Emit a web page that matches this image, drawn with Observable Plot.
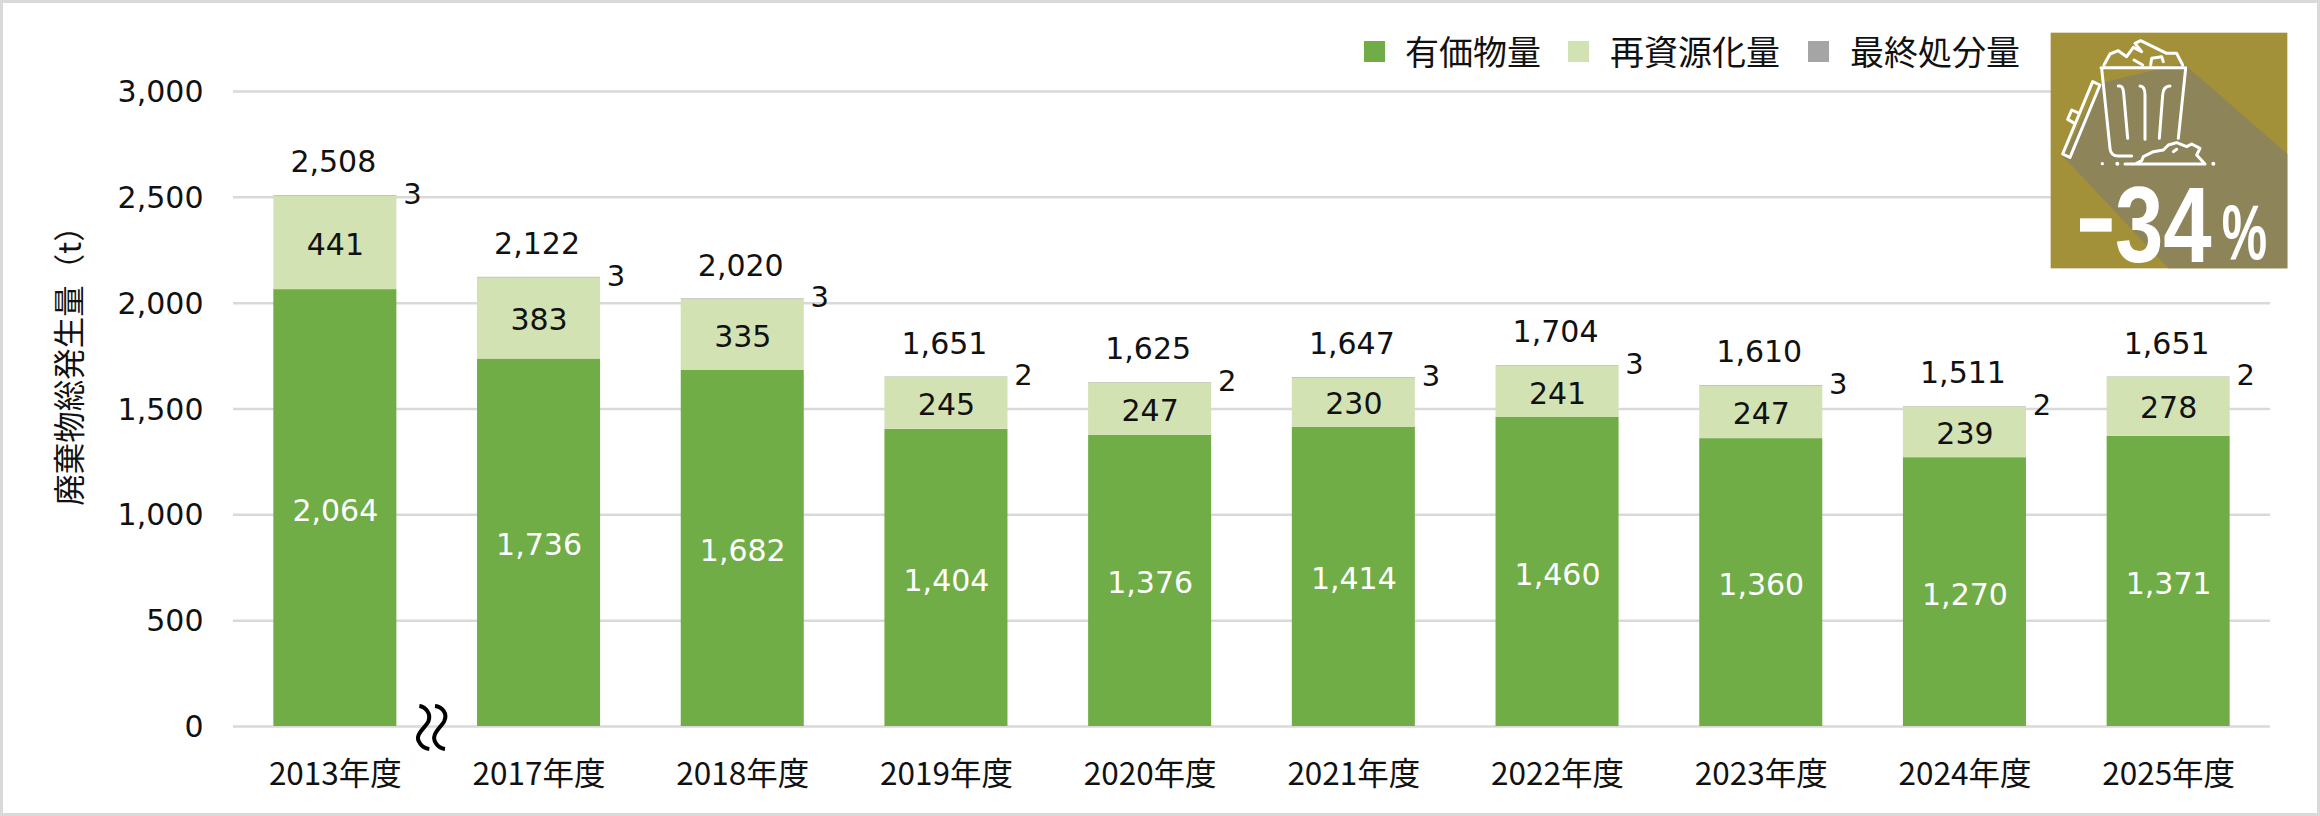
<!DOCTYPE html>
<html lang="ja">
<head>
<meta charset="utf-8">
<script src="https://cdn.jsdelivr.net/npm/d3@7"></script>
<script src="https://cdn.jsdelivr.net/npm/@observablehq/plot@0.6"></script>
<style>
  html,body{margin:0;padding:0;background:#fff;}
  #wrap{position:relative;width:2320px;height:816px;overflow:hidden;}
  #wrap>svg.chart{position:absolute;left:0;top:0;}
  #frame{position:absolute;inset:0;border:3px solid #d9d9d9;box-sizing:border-box;pointer-events:none;}
  .lg{position:absolute;top:29px;font:34px/44px "Noto Sans CJK JP";color:#111;white-space:nowrap;}
  .sw{position:absolute;top:41px;width:21px;height:21px;}
</style>
</head>
<body>
<div id="wrap"></div>
<script>
const years = ["2013年度","2017年度","2018年度","2019年度","2020年度","2021年度","2022年度","2023年度","2024年度","2025年度"];
const valuables = [2064,1736,1682,1404,1376,1414,1460,1360,1270,1371];
const recycled  = [441,383,335,245,247,230,241,247,239,278];
const disposal  = [3,3,3,2,2,3,3,3,2,2];
const totals    = [2508,2122,2020,1651,1625,1647,1704,1610,1511,1651];
const seriesNames = ["有価物量","再資源化量","最終処分量"];
const seriesColors = ["#70ad47","#d2e2b3","#a5a5a5"];
const yTicks = [0,500,1000,1500,2000,2500,3000];

const rows = years.flatMap((year,i)=>[
  {year,series:seriesNames[0],value:valuables[i]},
  {year,series:seriesNames[1],value:recycled[i]},
  {year,series:seriesNames[2],value:disposal[i]}
]);
const fmt = d3.format(",");
const latin = '"DejaVu Sans","Noto Sans CJK JP"';
const cjk = '"Noto Sans CJK JP"';
const labelOf = name => d => d.series===name ? fmt(d.value) : null;

const plot = Plot.plot({
  width:2320,height:816,
  marginLeft:233,marginRight:50,marginTop:91,marginBottom:90,
  style:{background:"transparent",fontFamily:latin,fontSize:"30px",color:"#111"},
  x:{domain:years,paddingInner:0.396,paddingOuter:0.198,round:false,label:null},
  y:{domain:[0,3000],label:null},
  color:{domain:seriesNames,range:seriesColors},
  marks:[
    Plot.gridY(yTicks,{stroke:"#d9d9d9",strokeOpacity:1,strokeWidth:2.5}),
    Plot.barY(rows,{x:"year",y:"value",fill:"series",order:null}),
    Plot.axisY({ticks:yTicks,tickFormat:d=>fmt(d),tickSize:0,tickPadding:30,fontSize:30,fill:"#111",label:null,fontFamily:latin,dy:1}),
    Plot.axisX({tickSize:0,tickPadding:36,fontSize:31.5,fill:"#111",label:null,fontFamily:cjk}),
    Plot.text(rows,Plot.stackY({x:"year",y:"value",z:"series",order:null,text:labelOf(seriesNames[0]),fill:"#fff",fontSize:30,dy:3})),
    Plot.text(rows,Plot.stackY({x:"year",y:"value",z:"series",order:null,text:labelOf(seriesNames[1]),fill:"#111",fontSize:30,dy:2})),
    Plot.text(years,{x:d=>d,y:(d,i)=>totals[i],text:(d,i)=>fmt(totals[i]),dx:-2,dy:-33,fill:"#111",fontSize:30}),
    Plot.text(years,{x:d=>d,y:(d,i)=>totals[i],text:(d,i)=>String(disposal[i]),dx:77,dy:-1,fill:"#111",fontSize:29}),
    Plot.text(["廃棄物総発生量（t）"],{frameAnchor:"left",textAnchor:"middle",dx:-163,dy:-51,rotate:-90,fill:"#111",fontSize:31.5,fontFamily:cjk})
  ]
});
plot.classList.add("chart");
const wrap = document.getElementById("wrap");
wrap.appendChild(plot);

// legend
const swX=[1364,1568,1808], txX=[1405,1610,1850];
seriesNames.forEach((n,i)=>{
  const s=document.createElement("div");s.className="sw";s.style.left=swX[i]+"px";s.style.background=seriesColors[i];wrap.appendChild(s);
  const t=document.createElement("div");t.className="lg";t.style.left=txX[i]+"px";t.textContent=n;wrap.appendChild(t);
});

// axis break mark + badge
const ns="http://www.w3.org/2000/svg";
const brk=document.createElementNS(ns,"svg");
brk.setAttribute("width",120);brk.setAttribute("height",100);
brk.setAttribute("viewBox","0 0 360 300");
brk.style.cssText="position:absolute;left:400px;top:680px;";
brk.innerHTML='<path d="M58 78 C75 80 95 100 85 125 C75 145 40 165 60 190 Q70 205 88 207 M105 78 C125 80 145 100 132 125 C120 145 90 165 108 190 Q118 205 135 207" fill="none" stroke="#000" stroke-width="12"/>';
wrap.appendChild(brk);

const badge=document.createElementNS(ns,"svg");
badge.setAttribute("width",420);badge.setAttribute("height",300);
badge.setAttribute("viewBox","0 0 1260 900");
badge.style.cssText="position:absolute;left:1900px;top:0;";
badge.innerHTML=`
<rect x="452" y="98" width="710" height="707" fill="#a29138"/>
<path d="M490 470 L600 250 L850 190 L1162 462 L1162 805 L805 805 Z" fill="#8d845a"/>
<g fill="none" stroke="#fff" stroke-width="9" stroke-linejoin="round" stroke-linecap="round">
<path d="M603 203 H857 M605 205 L630 445 Q632 468 655 468 H695 M857 205 L835 415"/>
<path d="M655 258 Q670 255 671 280 L683 415 M720 258 Q735 258 735 285 V418 M810 258 Q790 258 788 285 L778 415"/>
<path d="M578 245 L600 255 L510 472 L488 462 Z M515 330 L533 338 M515 330 L503 358 L520 368"/>
<path d="M612 195 L630 162 L655 152 L680 170 L700 142 L725 155 L705 130 L722 122 L800 160 L830 160 L848 195"/>
<path d="M702 180 L728 195 M752 195 L755 175 L785 170 L790 185"/>
<path d="M675 492 H915 L890 465 L900 445 L875 432 L860 440 L830 428 L805 435 L790 450 L760 455 L730 470 L725 482 L705 492 M820 455 L830 448"/>
</g>
<g fill="#fff"><circle cx="607" cy="491" r="5"/><circle cx="652" cy="491" r="6"/><circle cx="940" cy="491" r="6"/></g>
<g fill="#fff" font-family="'Liberation Sans'" font-weight="700">
<rect x="540" y="655" width="95" height="40"/>
<text transform="translate(645,785) scale(0.815,1)" font-size="320">34</text>
<text transform="translate(965,778) scale(0.66,1)" font-size="232">%</text>
</g>`;
wrap.appendChild(badge);

const frame=document.createElement("div");frame.id="frame";wrap.appendChild(frame);
</script>
</body>
</html>
